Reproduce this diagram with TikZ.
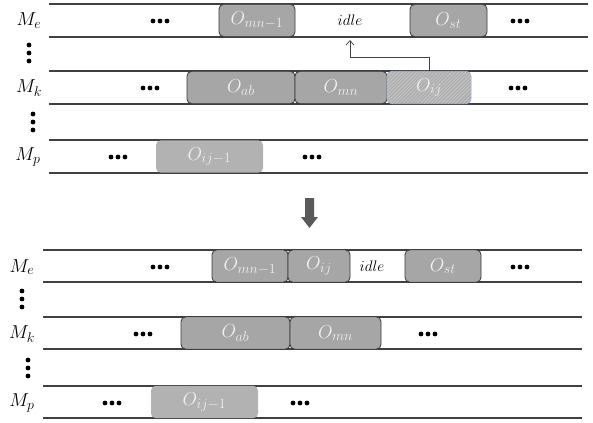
\RequirePackage{fix-cm}
\documentclass[tikz,border=0pt]{standalone}
\usetikzlibrary{patterns,arrows.meta}
\DeclareMathSizes{16}{16}{12}{9}
\DeclareMathSizes{13}{13}{10}{8}
\definecolor{rowline}{RGB}{64, 64, 64}
\definecolor{opfill}{RGB}{166, 166, 166}
\definecolor{opedge}{RGB}{58, 58, 58}
\definecolor{optext}{RGB}{240, 240, 240}
\definecolor{lightop}{RGB}{178, 178, 178}
\definecolor{movedge}{RGB}{150, 175, 220}
\definecolor{hatch}{RGB}{205, 205, 205}
\definecolor{bigarrow}{RGB}{90, 90, 90}
\tikzset{
  op/.style={draw=opedge, fill=opfill, rounded corners=4pt, inner sep=0pt,
             minimum height=0.97cm, text=optext, line width=0.7pt},
  lightopbox/.style={op, draw=none, fill=lightop},
  movedop/.style={op, draw=movedge, fill=opfill!90,
                  postaction={pattern=north east lines, pattern color=hatch}},
  idlenote/.style={font=\fontsize{13}{15}\selectfont},
  mlabel/.style={inner sep=0pt},
  row/.style={draw=rowline, line width=1pt}
}
\begin{document}
\begin{tikzpicture}[x=0.03cm, y=-0.03cm, font=\fontsize{16}{19}\selectfont]
        \useasboundingbox (0,0) rectangle (593,422);
        % machine rows before the move
        \foreach \y in {4,37,71,104,140,173}
            \draw[row] (49,\y) -- (588,\y);
        \node[mlabel] (me1) at (29, 21)  {$M_e$};
        \node[mlabel] (mk1) at (29, 88)  {$M_k$};
        \node[mlabel] (mp1) at (28,157)  {$M_p$};
        \foreach \y in {45,53,61}   \fill (29,\y) circle (2.4);
        \foreach \y in {114,122,130} \fill (33,\y) circle (2.4);
        \node[op, minimum width=2.28cm]         (omnone1) at (257.0, 20.5) {$O_{mn-1}$};
        \node[idlenote]                         (idle1)   at (350.0, 20.5) {$idle$};
        \node[op, minimum width=2.31cm]         (ost1)    at (448.5, 20.5) {$O_{st}$};
        \node[op, minimum width=3.24cm]         (oab1)    at (241.0, 87.5) {$O_{ab}$};
        \node[op, minimum width=2.76cm]         (omn1)    at (341.0, 87.5) {$O_{mn}$};
        \node[movedop, minimum width=2.52cm]    (oij1)    at (429.0, 87.5) {$O_{ij}$};
        \node[lightopbox, minimum width=3.21cm] (oijone1) at (209.5,156.5) {$O_{ij-1}$};
        \foreach \x/\y in {160/21, 520/21, 150/88, 518/88, 118/157, 312/157}
            \foreach \d in {-7,0,7} \fill (\x+\d,\y) circle (2.4);
        \coordinate (idlegap) at (350,40);
        \draw[rowline, line width=0.6pt, -{Straight Barb[length=4pt,width=7pt]}]
            (oij1.north) |- (350,57) -- (idlegap);
        % move arrow
        \fill[bigarrow] (305,198) rectangle (314,217) (301,217) -- (318,217) -- (309.5,228) -- cycle;
        % machine rows after the move
        \foreach \y in {250,282,317,349,386,418}
            \draw[row] (43,\y) -- (582,\y);
        \node[mlabel] (me2) at (22,267)  {$M_e$};
        \node[mlabel] (mk2) at (22,334)  {$M_k$};
        \node[mlabel] (mp2) at (22,403)  {$M_p$};
        \foreach \y in {291,299,307} \fill (22,\y) circle (2.4);
        \foreach \y in {360,368,376} \fill (28,\y) circle (2.4);
        \node[op, minimum width=2.28cm]         (omnone2) at (250.0,266.0) {$O_{mn-1}$};
        \node[op, minimum width=1.86cm]         (oij2)    at (319.0,266.0) {$O_{ij}$};
        \node[idlenote]                         (idle2)   at (372.0,266.0) {$idle$};
        \node[op, minimum width=2.28cm]         (ost2)    at (443.0,266.0) {$O_{st}$};
        \node[op, minimum width=3.27cm]         (oab2)    at (235.5,333.0) {$O_{ab}$};
        \node[op, minimum width=2.73cm]         (omn2)    at (335.5,333.0) {$O_{mn}$};
        \node[lightopbox, minimum width=3.21cm] (oijone2) at (204.5,402.0) {$O_{ij-1}$};
        \foreach \x/\y in {160/267, 520/267, 143/334, 428/334, 112/403, 300/403}
            \foreach \d in {-7,0,7} \fill (\x+\d,\y) circle (2.4);
\end{tikzpicture}
\end{document}
